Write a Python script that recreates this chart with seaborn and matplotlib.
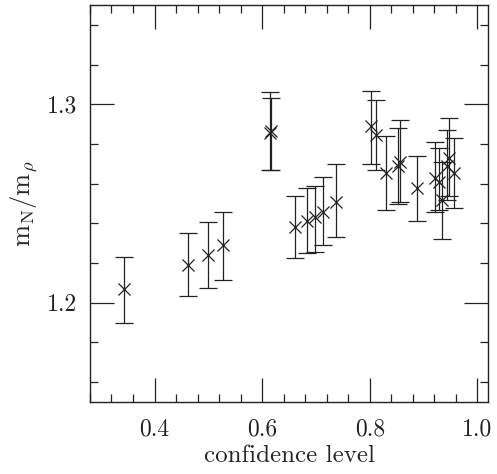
import numpy as np
import pandas as pd
import seaborn as sns
import matplotlib.pyplot as plt
from matplotlib.ticker import MultipleLocator

# data
conf = [0.344, 0.462, 0.499, 0.527, 0.614, 0.616, 0.662, 0.684, 0.699, 0.714, 0.737,
        0.802, 0.811, 0.831, 0.852, 0.856, 0.888, 0.922, 0.929, 0.935, 0.943, 0.947, 0.957]
ratio = [1.207, 1.219, 1.224, 1.229, 1.2855, 1.2865, 1.238, 1.241, 1.243, 1.246, 1.251,
         1.289, 1.2845, 1.2655, 1.269, 1.271, 1.258, 1.263, 1.261, 1.252, 1.269, 1.273, 1.2655]
upper = [1.223, 1.235, 1.2405, 1.246, 1.306, 1.303, 1.254, 1.258, 1.259, 1.2635, 1.270,
         1.307, 1.302, 1.284, 1.288, 1.292, 1.274, 1.281, 1.278, 1.271, 1.287, 1.293, 1.283]
lower = [1.190, 1.2035, 1.2076, 1.2116, 1.267, 1.267, 1.2224, 1.225, 1.2254, 1.229, 1.233,
         1.270, 1.267, 1.247, 1.2497, 1.251, 1.241, 1.246, 1.2467, 1.232, 1.252, 1.254, 1.248]

df = pd.DataFrame({"conf": conf, "ratio": ratio, "upper": upper, "lower": lower})

sns.set_theme(style="ticks")
plt.rcParams["font.family"] = ["cmr10", "DejaVu Serif"]
plt.rcParams["mathtext.fontset"] = "cm"
plt.rcParams["axes.formatter.use_mathtext"] = True

fig = plt.figure(figsize=(4.97, 4.74), dpi=100)
ax = fig.add_axes([0.181, 0.152, 0.801, 0.837])

col = "#222222"
ax.errorbar(df["conf"], df["ratio"],
            yerr=[df["ratio"] - df["lower"], df["upper"] - df["ratio"]],
            fmt="none", ecolor=col, elinewidth=0.9, capsize=6.8, capthick=0.9)
sns.scatterplot(data=df, x="conf", y="ratio", marker="x", s=75, color=col,
                linewidth=0.9, ax=ax, zorder=3)

ax.set_xlim(0.28, 1.02)
ax.set_ylim(1.15, 1.35)
ax.xaxis.set_minor_locator(MultipleLocator(0.04))
ax.yaxis.set_minor_locator(MultipleLocator(0.02))
ax.set_xticks([0.4, 0.6, 0.8, 1.0])
ax.set_xticklabels(["0.4", "0.6", "0.8", "1.0"])
ax.set_yticks([1.2, 1.3])
ax.set_yticklabels(["1.2", "1.3"])

ax.tick_params(which="both", direction="in", top=True, right=True,
               colors="#222222", labelsize=17, width=0.9)
ax.tick_params(which="major", length=17)
ax.tick_params(axis="x", which="major", pad=12)
ax.tick_params(axis="y", which="major", pad=9)
ax.tick_params(which="minor", length=6)
for s in ax.spines.values():
    s.set_linewidth(1.0)
    s.set_color("#222222")

ax.set_xlabel("confidence level", fontsize=18, labelpad=3)
ax.set_ylabel(r"$\mathrm{m_N/m_\rho}$", fontsize=19, labelpad=6)

fig.savefig("out.png", dpi=100)
